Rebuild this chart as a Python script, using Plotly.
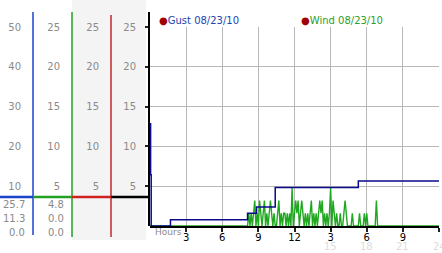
import plotly.graph_objects as go

W, H = 442, 253
ML, MR, MT, MB = 0, 0, 27, 27
PH = H - MT - MB  # plot height in px

def px(x):
    return x / W

def py(y):
    return (H - MB - y) / PH

# ---------------- data ----------------
gust_times = [0, 0.05, 0.1, 1.7, 8.1, 8.85, 10.4, 17.3, 24]
gust_vals = [25.7, 12.9, 0.0, 1.6, 3.2, 4.8, 9.7, 11.3, 11.3]

wind_start = 8.0
wind_step = 0.1
wind_vals = [
    0, 0, 1.6, 0, 1.6, 0, 1.6, 3.2, 0, 1.6,
    0, 3.2, 1.6, 0, 1.6, 3.2, 0, 1.6, 0, 1.6,
    3.2, 1.6, 0, 1.6, 0, 0, 1.6, 3.2, 0, 1.6,
    0, 1.6, 1.6, 0, 1.6, 0, 1.6, 0, 4.8, 0,
    1.6, 3.2, 1.6, 3.2, 0, 1.6, 3.2, 1.6, 0, 1.6,
    0, 1.6, 0, 1.6, 3.2, 0, 1.6, 0, 1.6, 0,
    1.6, 3.2, 1.6, 3.2, 0, 1.6, 0, 1.6, 0, 1.6,
    4.8, 0, 3.2, 1.6, 0, 1.6, 0, 0, 1.6, 0,
    0, 1.6, 3.2, 1.6, 0, 0, 0, 0, 1.6, 0,
    0, 0, 0, 0, 1.6, 0, 0, 0, 1.6, 0,
    1.6, 0, 0, 0, 0, 0, 0, 0, 3.2, 0, 0,
]
wind_times = [0] + [round(wind_start + wind_step * i, 2) for i in range(len(wind_vals))] + [24]
wind_series = [0] + wind_vals + [0]

x_tickvals = [3, 6, 9, 12, 15, 18, 21, 24]
x_ticktext = ["3", "6", "9", "12", "3", "6", "9", "12"]
x_faded = [15, 18, 21, 24]

gust_ticks = [10, 20, 30, 40, 50]
wind_ticks = [5, 10, 15, 20, 25]

gust_stats = ["25.7", "11.3", "0.0"]
wind_stats = ["4.8", "0.0", "0.0"]

legend_items = [("Gust 08/23/10", "#2444b0", 157), ("Wind 08/23/10", "#2ca02c", 299)]

# ---------------- figure ----------------
FONT = "DejaVu Sans"
GRAY = "#8a8a8a"

fig = go.Figure()
fig.add_trace(go.Scatter(x=wind_times, y=wind_series, mode="lines",
                         line=dict(color="#1fa81f", width=1.4), yaxis="y", hoverinfo="skip"))
fig.add_trace(go.Scatter(x=gust_times, y=gust_vals, mode="lines", line_shape="hv",
                         line=dict(color="#0a0a8c", width=1.5), yaxis="y2", hoverinfo="skip"))
for ax in ["y3", "y4"]:
    fig.add_trace(go.Scatter(x=[None], y=[None], mode="lines", yaxis=ax, hoverinfo="skip"))

tickfont = dict(family=FONT, size=10, color=GRAY)

def side_axis(pos, rng, vals):
    return dict(overlaying="y", anchor="free", position=pos, side="left",
                range=rng, tickvals=vals, showgrid=False, zeroline=False,
                showline=False, ticks="", tickfont=tickfont, ticklabelstandoff=12)

fig.update_layout(
    width=W, height=H,
    margin=dict(l=ML, r=MR, t=MT, b=MB, autoexpand=False),
    paper_bgcolor="white", plot_bgcolor="white",
    showlegend=False,
    xaxis=dict(domain=[px(150), px(439)], range=[0, 24], tickvals=x_tickvals,
               ticktext=x_ticktext, ticks="outside", ticklen=4, tickwidth=2,
               tickcolor="#222", showgrid=True, gridcolor="#b8b8b8", gridwidth=1,
               zeroline=False, showline=True, linecolor="black", linewidth=1.5,
               tickfont=dict(family=FONT, size=10, color="black"),
               ticklabelstandoff=-3, fixedrange=True),
    yaxis=dict(range=[0, 25], tickvals=wind_ticks, ticks="outside", ticklen=4,
               tickwidth=2, tickcolor="#222", showgrid=True, gridcolor="#b8b8b8",
               zeroline=False, showline=False, tickfont=tickfont, ticklabelstandoff=7),
    yaxis2=side_axis(px(33), [0, 50], gust_ticks),
    yaxis3=side_axis(px(72), [0, 25], wind_ticks),
    yaxis4=side_axis(px(111), [0, 25], wind_ticks),
)

shapes = []
# grey background for columns 3 & 4
shapes.append(dict(type="rect", xref="paper", yref="paper", x0=px(72), x1=px(146),
                   y0=py(240), y1=py(0), fillcolor="#f4f4f4", line_width=0, layer="below"))
# column lines
for x, col, y0, y1, w in [(33, "#1a44c8", 12, 235, 1.5), (72, "#22a022", 12, 237, 1.5),
                          (111, "#c02828", 15, 237, 1.5), (149, "black", 12, 226, 2)]:
    shapes.append(dict(type="line", xref="paper", yref="paper", x0=px(x), x1=px(x),
                       y0=py(y0), y1=py(y1), line=dict(color=col, width=w)))
# coloured separator bar
for x0, x1, col in [(0, 33, "#1a44c8"), (33, 72, "#22a022"), (72, 111, "#d02020"), (111, 149, "black")]:
    shapes.append(dict(type="line", xref="paper", yref="paper", x0=px(x0), x1=px(x1),
                       y0=py(197), y1=py(197), line=dict(color=col, width=2.5)))
fig.update_layout(shapes=shapes)

ann = []
for i, (g, w) in enumerate(zip(gust_stats, wind_stats)):
    yy = py(204.5 + 14 * i)
    ann.append(dict(text=g, x=px(27), y=yy, xref="paper", yref="paper", xanchor="right",
                    yanchor="middle", showarrow=False, font=tickfont))
    ann.append(dict(text=w, x=px(66), y=yy, xref="paper", yref="paper", xanchor="right",
                    yanchor="middle", showarrow=False, font=tickfont))
for v in x_faded:
    ann.append(dict(text=str(v), x=v, y=py(247), xref="x", yref="paper", xanchor="center",
                    yanchor="middle", showarrow=False,
                    font=dict(family=FONT, size=10, color="#dcdcdc")))
ann.append(dict(text="Hours", x=px(153), y=py(232), xref="paper", yref="paper",
                xanchor="left", yanchor="middle", showarrow=False,
                font=dict(family=FONT, size=9, color=GRAY)))
for label, col, xp in legend_items:
    ann.append(dict(text='<span style="color:#a00000">●</span>' + label, x=px(xp), y=py(20.5),
                    xref="paper", yref="paper", xanchor="left", yanchor="middle", showarrow=False,
                    font=dict(family=FONT, size=10, color=col)))
fig.update_layout(annotations=ann)

fig.write_html("out.html")
